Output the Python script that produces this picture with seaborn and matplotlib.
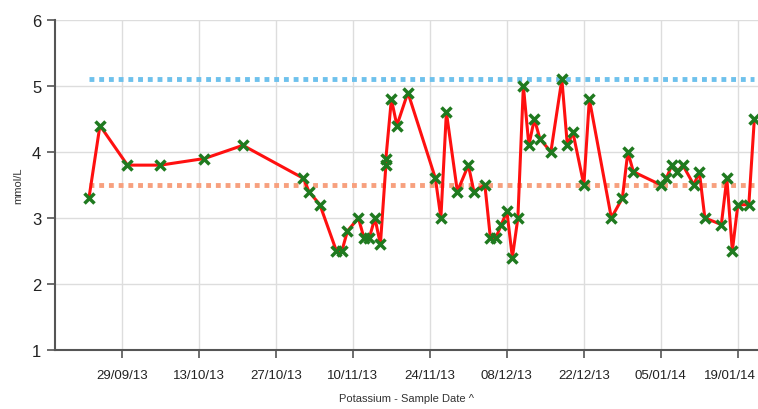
import pandas as pd
import matplotlib
matplotlib.use("Agg")
import matplotlib.pyplot as plt
import matplotlib.dates as mdates
import matplotlib.transforms as mtransforms
import seaborn as sns

# sample dates and potassium results (mmol/L)
dates = ["2013-09-23", "2013-09-25", "2013-09-30", "2013-10-06", "2013-10-14",
         "2013-10-21", "2013-11-01", "2013-11-02", "2013-11-04", "2013-11-07",
         "2013-11-08", "2013-11-09", "2013-11-11", "2013-11-12", "2013-11-13",
         "2013-11-14", "2013-11-15", "2013-11-16", "2013-11-16", "2013-11-17",
         "2013-11-18", "2013-11-20", "2013-11-25", "2013-11-26", "2013-11-27",
         "2013-11-29", "2013-12-01", "2013-12-02", "2013-12-04", "2013-12-05",
         "2013-12-06", "2013-12-07", "2013-12-08", "2013-12-09", "2013-12-10",
         "2013-12-11", "2013-12-12", "2013-12-13", "2013-12-14", "2013-12-16",
         "2013-12-18", "2013-12-19", "2013-12-20", "2013-12-22", "2013-12-23",
         "2013-12-27", "2013-12-29", "2013-12-30", "2013-12-31", "2014-01-05",
         "2014-01-06", "2014-01-07", "2014-01-08", "2014-01-09", "2014-01-11",
         "2014-01-12", "2014-01-13", "2014-01-16", "2014-01-17", "2014-01-18",
         "2014-01-19", "2014-01-21", "2014-01-22"]
values = [3.3, 4.4, 3.8, 3.8, 3.9,
          4.1, 3.6, 3.4, 3.2, 2.5,
          2.5, 2.8, 3.0, 2.7, 2.7,
          3.0, 2.6, 3.8, 3.9, 4.8,
          4.4, 4.9, 3.6, 3.0, 4.6,
          3.4, 3.8, 3.4, 3.5, 2.7,
          2.7, 2.9, 3.1, 2.4, 3.0,
          5.0, 4.1, 4.5, 4.2, 4.0,
          5.1, 4.1, 4.3, 3.5, 4.8,
          3.0, 3.3, 4.0, 3.7, 3.5,
          3.6, 3.8, 3.7, 3.8, 3.5,
          3.7, 3.0, 2.9, 3.6, 2.5,
          3.2, 3.2, 4.5]

upper_limit = 5.1
lower_limit = 3.5
tick_dates = ["2013-09-29", "2013-10-13", "2013-10-27", "2013-11-10", "2013-11-24",
              "2013-12-08", "2013-12-22", "2014-01-05", "2014-01-19"]

df = pd.DataFrame({"date": pd.to_datetime(dates), "value": values})

sns.set_style("whitegrid")
plt.rcParams['font.family'] = ['Liberation Sans', 'DejaVu Sans']

fig = plt.figure(figsize=(7.58, 4.10), dpi=100)
ax = fig.add_axes([0.0726, 0.144, 0.9274, 0.805])

# reference range lines
ax.hlines(upper_limit, df["date"].min(), df["date"].max(), color="#6ec1ec",
          linestyle=(0, (1, 1)), linewidth=3.5, zorder=2)
ax.hlines(lower_limit, df["date"].min(), df["date"].max(), color="#f7a07e",
          linestyle=(0, (1, 1)), linewidth=3.5, zorder=2)

sns.lineplot(data=df, x="date", y="value", ax=ax, color="#ff1010", linewidth=2.2,
             sort=False, estimator=None, marker="x", markersize=7,
             markeredgewidth=2.5, markeredgecolor="#1f7a1f", zorder=3)

ax.set_ylim(1, 6)
ax.set_yticks([1, 2, 3, 4, 5, 6])
ax.set_xlim(pd.Timestamp("2013-09-16 20:00"), pd.Timestamp("2014-01-22 16:00"))
ax.set_xticks(pd.to_datetime(tick_dates))
ax.xaxis.set_major_formatter(mdates.DateFormatter("%d/%m/%y"))

ax.grid(True, color="#dddddd", linewidth=1)
for side in ["top", "right"]:
    ax.spines[side].set_visible(False)
for side in ["left", "bottom"]:
    ax.spines[side].set_color("#555555")
    ax.spines[side].set_linewidth(1.5)

ax.tick_params(axis="both", which="major", length=6, width=1.2, color="#555555",
               labelcolor="#222222", direction="out", bottom=True, left=True)
ax.tick_params(axis="y", labelsize=12, pad=4)
ax.tick_params(axis="x", labelsize=9.5, pad=8)

# keep the last date label inside the figure
fig.canvas.draw()
last = ax.get_xticklabels()[-1]
last.set_transform(last.get_transform() +
                   mtransforms.ScaledTranslation(-6 / 72, 0, fig.dpi_scale_trans))

ax.set_xlabel("Potassium - Sample Date ^", fontsize=8, color="#333333", labelpad=8)
ax.set_ylabel("mmol/L", fontsize=8, color="#333333", labelpad=6)

fig.savefig("out.png", dpi=100)
